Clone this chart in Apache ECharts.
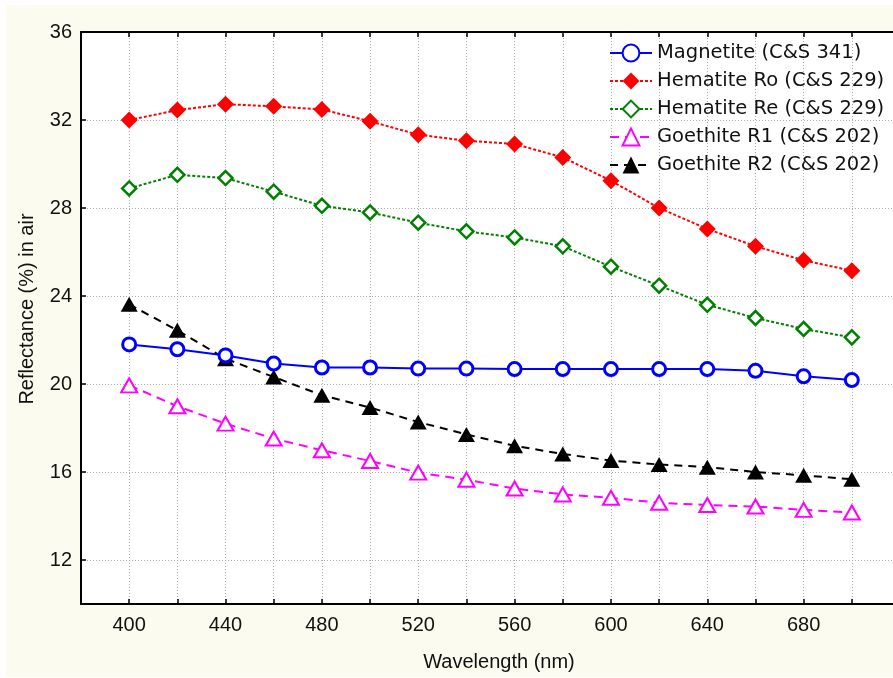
<!DOCTYPE html>
<html>
<head>
<meta charset="utf-8">
<script src="https://cdn.jsdelivr.net/npm/echarts@6/dist/echarts.min.js"></script>
<style>
html,body{margin:0;padding:0;background:#fff;}
#chart{width:893px;height:678px;}
</style>
</head>
<body>
<div id="chart"></div>
<script>
// ---- Data ----
const wavelengths = [400,420,440,460,480,500,520,540,560,580,600,620,640,660,680,700];
const magnetite  = [21.8,21.58,21.3,20.93,20.75,20.75,20.7,20.7,20.68,20.68,20.68,20.68,20.68,20.6,20.35,20.18];
const hematiteRo = [32.0,32.45,32.72,32.62,32.48,31.94,31.33,31.06,30.91,30.30,29.24,28.0,27.05,26.26,25.62,25.15];
const hematiteRe = [28.89,29.51,29.36,28.74,28.1,27.8,27.33,26.94,26.66,26.26,25.33,24.47,23.6,23.0,22.5,22.12];
const goethiteR1 = [19.94,18.99,18.2,17.52,16.99,16.5,15.97,15.65,15.25,14.98,14.83,14.6,14.5,14.43,14.28,14.16];
const goethiteR2 = [23.62,22.44,21.15,20.32,19.49,18.93,18.27,17.71,17.19,16.82,16.52,16.34,16.22,16.0,15.85,15.67];
const seriesNames = ['Magnetite (C&S 341)','Hematite Ro (C&S 229)','Hematite Re (C&S 229)','Goethite R1 (C&S 202)','Goethite R2 (C&S 202)'];
const yTickValues = [12,16,20,24,28,32,36];
const xLabelValues = [400,440,480,520,560,600,640,680];

const pairs = arr => wavelengths.map((w,i)=>[w,arr[i]]);
const FONT = '"Liberation Sans", Arial, Helvetica, sans-serif';

const chart = echarts.init(document.getElementById('chart'), null, {renderer:'canvas'});
const gridLine = {show:true, lineStyle:{color:'#aaaaaa', width:1, type:[1,2]}};

const option = {
  backgroundColor:'#ffffff',
  animation:false,
  graphic:[{type:'rect', z:-10, silent:true, shape:{x:6,y:5,width:887,height:672}, style:{fill:'#fcfbf0'}}],
  grid:{left:81, top:32, width:819, bottom:74, show:true, backgroundColor:'#ffffff', borderWidth:0,
        containLabel:false, outerBoundsMode:'none'},
  legend:{
    orient:'vertical', left:609, top:42.5, itemWidth:42, itemHeight:21, itemGap:7,
    data:seriesNames,
    textStyle:{fontFamily:'"DejaVu Sans", sans-serif', fontSize:19.5, color:'#111', lineHeight:21},
    backgroundColor:'transparent', borderWidth:0, padding:0
  },
  xAxis:[{
    type:'value', min:380, max:720, interval:20, position:'bottom',
    name:'Wavelength (nm)', nameLocation:'middle', nameGap:48,
    nameTextStyle:{fontFamily:FONT, fontSize:20, color:'#111', padding:[0,0,0,17]},
    axisLine:{show:true, onZero:false, lineStyle:{color:'#000', width:2}},
    axisTick:{show:true, inside:true, length:5, lineStyle:{color:'#000', width:1.5}},
    axisLabel:{fontFamily:FONT, fontSize:20, color:'#111', margin:11,
      formatter:v => xLabelValues.indexOf(v) >= 0 ? String(v) : ''},
    splitLine:gridLine
  },{
    type:'value', min:380, max:720, interval:20, position:'top',
    axisLine:{show:true, onZero:false, lineStyle:{color:'#000', width:2}},
    axisTick:{show:true, inside:true, length:5, lineStyle:{color:'#000', width:1.5}},
    axisLabel:{show:false}, splitLine:{show:false}
  }],
  yAxis:{
    type:'value', min:10, max:36,
    name:'Reflectance (%) in air', nameLocation:'middle', nameGap:44, nameRotate:90,
    nameTextStyle:{fontFamily:FONT, fontSize:20, color:'#111', padding:[0,0,0,18]},
    axisLine:{show:true, onZero:false, lineStyle:{color:'#000', width:2}},
    axisTick:{show:true, inside:true, length:5, lineStyle:{color:'#000', width:1.5}, customValues:yTickValues},
    axisLabel:{fontFamily:FONT, fontSize:20, color:'#111', margin:9, customValues:yTickValues},
    splitLine:gridLine
  },
  series:[
    {name:seriesNames[0], type:'line', data:pairs(magnetite), symbol:'circle', symbolSize:13,
     lineStyle:{color:'#0000ff', width:2, type:'solid'},
     itemStyle:{color:'#ffffff', borderColor:'#0000ff', borderWidth:3}, z:5},
    {name:seriesNames[1], type:'line', data:pairs(hematiteRo), symbol:'diamond', symbolSize:[17,17],
     lineStyle:{color:'#ff0000', width:2, type:[3,2]},
     itemStyle:{color:'#ff0000', borderColor:'#ff0000', borderWidth:0}, z:4},
    {name:seriesNames[2], type:'line', data:pairs(hematiteRe), symbol:'diamond', symbolSize:[14,14],
     lineStyle:{color:'#008000', width:2, type:[3,2]},
     itemStyle:{color:'#ffffff', borderColor:'#008000', borderWidth:2.5}, z:4},
    {name:seriesNames[3], type:'line', data:pairs(goethiteR1), symbol:'triangle', symbolSize:[16,14],
     lineStyle:{color:'#ff00ff', width:2, type:[9,6]},
     itemStyle:{color:'#ffffff', borderColor:'#ff00ff', borderWidth:2}, z:4},
    {name:seriesNames[4], type:'line', data:pairs(goethiteR2), symbol:'triangle', symbolSize:[17,15],
     lineStyle:{color:'#000000', width:2, type:[8,6]},
     itemStyle:{color:'#000000', borderColor:'#000000', borderWidth:0}, z:4}
  ]
};
chart.setOption(option);
</script>
</body>
</html>
